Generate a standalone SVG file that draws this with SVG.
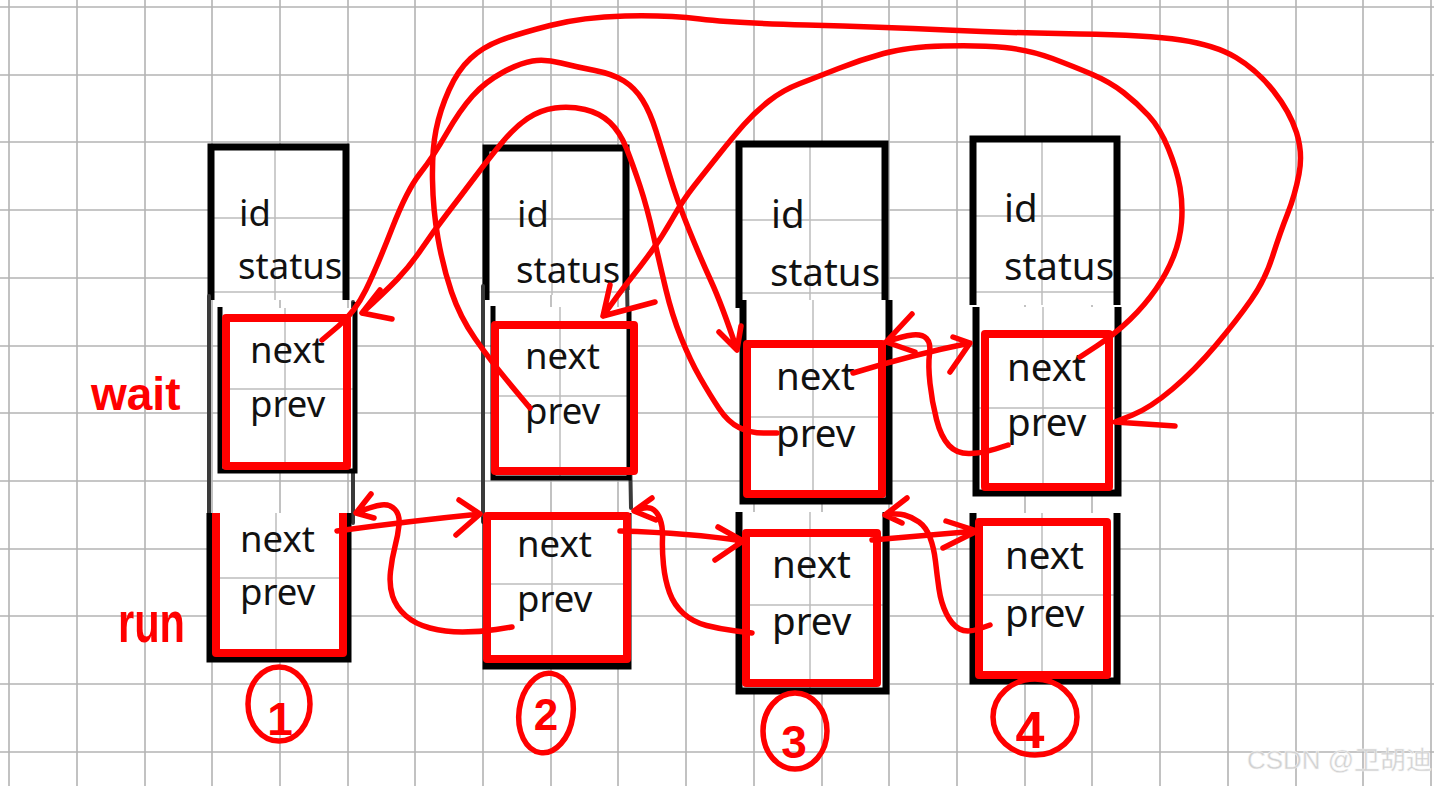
<svg xmlns="http://www.w3.org/2000/svg" width="1434" height="786" viewBox="0 0 1434 786">
<style>
.grid line{stroke:#b3b3b3;stroke-width:1.6}
.inner{stroke:#bdbdbd;stroke-width:1.5;fill:none}
.fill{fill:#fff;stroke:none}
.blk{fill:none;stroke:#000;stroke-width:7;stroke-linejoin:miter}
.blk5{fill:none;stroke:#000;stroke-width:5;stroke-linejoin:miter}
.gry{fill:none;stroke:#3a3a3a;stroke-width:4;stroke-linecap:round}
.red{fill:none;stroke:#ff0000;stroke-width:8;stroke-linejoin:round}
.t{font-family:"Noto Sans","Open Sans",sans-serif;font-size:36.5px;fill:#111}
.t2{font-family:"Noto Sans","Open Sans",sans-serif;font-size:38.5px;fill:#111}
.conn path{fill:none;stroke:#ff0000;stroke-width:5.5;stroke-linecap:round;stroke-linejoin:round}
.hand{font-family:"Liberation Sans",sans-serif;font-weight:bold;fill:#ff0000}
.circ{fill:none;stroke:#ff0000;stroke-width:5.5}
</style>
<rect width="1434" height="786" fill="#fff"/>
<g class="grid">
<line x1="9" y1="0" x2="9" y2="786"/><line x1="77" y1="0" x2="77" y2="786"/><line x1="145" y1="0" x2="145" y2="786"/><line x1="212" y1="0" x2="212" y2="786"/><line x1="280" y1="0" x2="280" y2="786"/><line x1="348" y1="0" x2="348" y2="786"/><line x1="415" y1="0" x2="415" y2="786"/><line x1="483" y1="0" x2="483" y2="786"/><line x1="551" y1="0" x2="551" y2="786"/><line x1="618" y1="0" x2="618" y2="786"/><line x1="686" y1="0" x2="686" y2="786"/><line x1="754" y1="0" x2="754" y2="786"/><line x1="822" y1="0" x2="822" y2="786"/><line x1="889" y1="0" x2="889" y2="786"/><line x1="957" y1="0" x2="957" y2="786"/><line x1="1025" y1="0" x2="1025" y2="786"/><line x1="1092" y1="0" x2="1092" y2="786"/><line x1="1160" y1="0" x2="1160" y2="786"/><line x1="1228" y1="0" x2="1228" y2="786"/><line x1="1296" y1="0" x2="1296" y2="786"/><line x1="1363" y1="0" x2="1363" y2="786"/><line x1="1431" y1="0" x2="1431" y2="786"/>
<line x1="0" y1="7" x2="1434" y2="7"/><line x1="0" y1="75" x2="1434" y2="75"/><line x1="0" y1="142" x2="1434" y2="142"/><line x1="0" y1="210" x2="1434" y2="210"/><line x1="0" y1="278" x2="1434" y2="278"/><line x1="0" y1="346" x2="1434" y2="346"/><line x1="0" y1="413" x2="1434" y2="413"/><line x1="0" y1="481" x2="1434" y2="481"/><line x1="0" y1="549" x2="1434" y2="549"/><line x1="0" y1="616" x2="1434" y2="616"/><line x1="0" y1="684" x2="1434" y2="684"/><line x1="0" y1="752" x2="1434" y2="752"/>
</g>

<g id="node1">
<rect class="fill" x="211" y="147" width="135" height="153"/>
<path class="inner" d="M275,147V300M211,218H346M211,292H346"/>
<path class="blk" d="M211,300V147H346V300"/>
<path class="gry" d="M209,296V520M353,302V523"/>
<rect class="fill" x="220" y="308" width="135" height="163"/>
<path class="inner" d="M285,308V471M220,389H355"/>
<path class="blk5" d="M220,307V471H355V302"/>
<rect class="red" x="226" y="318" width="121" height="148"/>
<rect class="fill" x="211" y="513" width="137" height="146"/>
<path class="inner" d="M276,513V659M211,578H348"/>
<path class="blk" d="M210,513V659H348V513"/>
<path class="red" d="M216,513V653H343V513"/>
<text class="t" x="239" y="226">id</text>
<text class="t" x="238" y="279">status</text>
<text class="t" x="250" y="363">next</text>
<text class="t" x="250" y="417">prev</text>
<text class="t" x="240" y="552">next</text>
<text class="t" x="240" y="605">prev</text>
</g>

<g id="node2">
<rect class="fill" x="486" y="148" width="140" height="147"/>
<path class="inner" d="M552,148V295M486,219H626M486,292H626"/>
<path class="blk" d="M486,300V148H626V290"/>
<path class="gry" d="M483,286V522M627,282L631,508"/>
<rect class="fill" x="492" y="307" width="138" height="171"/>
<path class="inner" d="M560,307V478M492,396H630"/>
<path class="blk5" d="M493,306V478H629V307"/>
<rect class="red" x="495" y="325" width="139" height="146"/>
<rect class="fill" x="486" y="516" width="142" height="150"/>
<path class="inner" d="M552,516V666M486,584H628"/>
<path class="blk" d="M486,517V666H628V513"/>
<rect class="red" x="487" y="516" width="140" height="143"/>
<text class="t" x="517" y="227">id</text>
<text class="t" x="516" y="283">status</text>
<text class="t" x="525" y="369">next</text>
<text class="t" x="525" y="424">prev</text>
<text class="t" x="517" y="557">next</text>
<text class="t" x="517" y="612">prev</text>
</g>

<g id="node3">
<rect class="fill" x="739" y="144" width="146" height="164"/>
<path class="inner" d="M810,144V308M739,220H885M739,293H885"/>
<path class="blk" d="M739,308V144H885V308"/>
<rect class="fill" x="743" y="300" width="146" height="201"/>
<path class="inner" d="M813,300V501M743,417H889"/>
<path class="blk" d="M743,300V501H889V300"/>
<rect class="red" x="747" y="344" width="135" height="150" stroke-width="9"/>
<rect class="fill" x="739" y="512" width="147" height="180"/>
<path class="inner" d="M810,512V692M739,605H886"/>
<path class="blk" d="M739,512V691H886V512"/>
<rect class="red" x="746" y="533" width="131" height="150" stroke-width="9"/>
<text class="t2" x="771" y="228">id</text>
<text class="t2" x="770" y="286">status</text>
<text class="t2" x="776" y="390">next</text>
<text class="t2" x="776" y="447">prev</text>
<text class="t2" x="772" y="578">next</text>
<text class="t2" x="772" y="635">prev</text>
</g>

<g id="node4">
<rect class="fill" x="973" y="139" width="144" height="166"/>
<path class="inner" d="M1042,139V305M973,216H1117M973,292H1117"/>
<path class="blk" d="M973,305V139H1117V305"/>
<rect class="fill" x="976" y="307" width="142" height="186"/>
<path class="inner" d="M1043,307V493M976,408H1118"/>
<path class="blk" d="M976,307V493H1118V307"/>
<rect class="red" x="985" y="334" width="124" height="153" stroke-width="9"/>
<rect class="fill" x="973" y="513" width="144" height="168"/>
<path class="inner" d="M1042,513V681M973,595H1117"/>
<path class="blk" d="M973,513V681H1117V513"/>
<rect class="red" x="979" y="522" width="128" height="153" stroke-width="9"/>
<text class="t2" x="1004" y="222">id</text>
<text class="t2" x="1004" y="280">status</text>
<text class="t2" x="1007" y="381">next</text>
<text class="t2" x="1007" y="436">prev</text>
<text class="t2" x="1005" y="569">next</text>
<text class="t2" x="1005" y="627">prev</text>
</g>

<g id="connectors" class="conn">
<path d="M337,531Q410,521 480,514M459,500L480,514L456,535"/>
<path d="M512,627L496,629.5Q480,632 462.5,632Q445,632 430,628Q415,624 405.5,615.5Q396,607 392.5,596Q389,585 390.5,571.5Q392,558 395,546.5Q398,535 399,525Q400,515 395,509.5Q390,504 381.5,505Q373,506 356,513M371,494L356,513L374,518"/>
<path d="M620,531Q690,533 743,541M718,527L743,541L715,560"/>
<path d="M752,633L736,631Q720,629 706.5,625.5Q693,622 683.5,613.5Q674,605 669.5,592.5Q665,580 663.5,565Q662,550 662.5,538.5Q663,527 660,519Q657,511 651.5,508.5Q646,506 634,511M652,498L634,511L656,520"/>
<path d="M872,540Q930,535 977,531M946,521L977,531L943,548"/>
<path d="M990,625L978.5,629Q967,633 959.5,629Q952,625 946.5,614Q941,603 939,589Q937,575 935.5,561.5Q934,548 930,537.5Q926,527 919,522Q912,517 904.5,515Q897,513 885,515M907,498L885,515L902,523"/>
<path d="M853,373Q915,354 970,343M953,337L970,343L950,372"/>
<path d="M1008,445L995.5,449Q983,453 970,453.5Q957,454 949,445.5Q941,437 936.5,419.5Q932,402 930,383.5Q928,365 929.5,354Q931,343 926.5,338.5Q922,334 912.5,335Q903,336 886,342M912,314L886,342L915,352"/>
<path d="M322,340L338.5,326Q355,312 366,289.5Q377,267 392,228.5Q407,190 420,173.5Q433,157 446.5,133.5Q460,110 472.5,96Q485,82 502.5,72.5Q520,63 532.5,61Q545,59 561,63Q577,67 595,70.5Q613,74 624,81Q635,88 642.5,100Q650,112 656,131Q662,150 669.5,175Q677,200 688.5,228.5Q700,257 711,281Q722,305 737,350M719,332L737,350L741,326"/>
<path d="M777,433L763.5,433Q750,433 739,427.5Q728,422 719,408.5Q710,395 700,377.5Q690,360 681,337.5Q672,315 666,290Q660,265 653.5,236Q647,207 640,186Q633,165 626.5,148.5Q620,132 610,122.5Q600,113 585,109.5Q570,106 555,108Q540,110 527.5,118.5Q515,127 502.5,142Q490,157 475,177Q460,197 446.5,214.5Q433,232 421.5,249Q410,266 397.5,279Q385,292 362,313M380,290L362,313L392,319"/>
<path d="M530,408L510,384Q490,360 475,338.5Q460,317 451.5,292Q443,267 438,238.5Q433,210 432.5,180Q432,150 436,130Q440,110 449,90Q458,70 470.5,58.5Q483,47 500,40.5Q517,34 550,25.5Q583,17 625,16Q667,15 700,19Q733,23 806.5,25Q880,27 946.5,30Q1013,33 1080,34Q1147,35 1181,40Q1215,45 1236,57.5Q1257,70 1273.5,91Q1290,112 1296.5,132.5Q1303,153 1299,174Q1295,195 1287.5,214Q1280,233 1272.5,256.5Q1265,280 1251,300Q1237,320 1216,345Q1195,370 1172.5,389Q1150,408 1132.5,415L1115,422L1175,426"/>
<path d="M1080,357L1097.5,345.5Q1115,334 1130,319.5Q1145,305 1156,289Q1167,273 1173.5,256.5Q1180,240 1181.5,222.5Q1183,205 1180,187.5Q1177,170 1168.5,149Q1160,128 1148.5,115.5Q1137,103 1123.5,92.5Q1110,82 1092.5,74.5Q1075,67 1052.5,58.5Q1030,50 1005,47.5Q980,45 943.5,46Q907,47 883.5,53.5Q860,60 838.5,68.5Q817,77 800,83.5Q783,90 769,101Q755,112 744,124.5Q733,137 719,154.5Q705,172 694,186Q683,200 672.5,218.5Q662,237 651,252Q640,267 630,279.5Q620,292 603,316M610,285L603,316L655,302"/>
</g>

<g id="labels">
<text class="hand" x="91" y="410" font-size="46">wait</text>
<text class="hand" x="118" y="642" font-size="58" textLength="67" lengthAdjust="spacingAndGlyphs">run</text>
<ellipse class="circ" cx="279" cy="704" rx="31" ry="37"/>
<text class="hand" x="280" y="735" font-size="46" text-anchor="middle">1</text>
<ellipse class="circ" cx="546" cy="713" rx="27" ry="40" transform="rotate(8 546 713)"/>
<text class="hand" x="546" y="730" font-size="44" text-anchor="middle">2</text>
<ellipse class="circ" cx="795" cy="731" rx="32" ry="38"/>
<text class="hand" x="794" y="758" font-size="46" text-anchor="middle">3</text>
<ellipse class="circ" cx="1035" cy="717" rx="42" ry="38"/>
<text class="hand" x="1030" y="748" font-size="52" text-anchor="middle">4</text>
</g>
<text x="1247" y="769" font-family="Liberation Sans,'Noto Sans CJK SC',sans-serif" font-size="25" fill="#d0d0d0" stroke="#f4f4f4" stroke-width="0.5" textLength="185" lengthAdjust="spacingAndGlyphs">CSDN @卫胡迪</text>
</svg>
